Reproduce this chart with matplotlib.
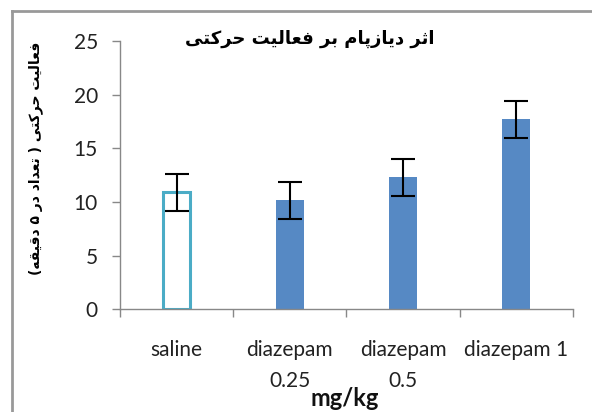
import matplotlib
matplotlib.use("Agg")
import matplotlib.pyplot as plt
from matplotlib.lines import Line2D

# ---------------- DATA ----------------
categories = ["saline", "diazepam\n0.25", "diazepam\n0.5", "diazepam 1"]
means = [10.9, 10.15, 12.3, 17.7]
errors = [1.75, 1.75, 1.75, 1.75]
title_text = "اثر دیازپام بر فعالیت حرکتی"
ylabel_text = "فعالیت حرکتی ( تعداد در ۵ دقیقه)"
xlabel_text = "mg/kg"

# ---------------- PERSIAN SHAPING ----------------
# matplotlib has no bidi / joining, so pick presentation forms by hand
# forms: isolated, final, initial, medial
FORMS = {
    "ا": ("\uFE8D", "\uFE8E", None, None),
    "د": ("\uFEA9", "\uFEAA", None, None),
    "ر": ("\uFEAD", "\uFEAE", None, None),
    "ز": ("\uFEAF", "\uFEB0", None, None),
    "ب": ("\uFE8F", "\uFE90", "\uFE91", "\uFE92"),
    "ت": ("\uFE95", "\uFE96", "\uFE97", "\uFE98"),
    "ث": ("\uFE99", "\uFE9A", "\uFE9B", "\uFE9C"),
    "ح": ("\uFEA1", "\uFEA2", "\uFEA3", "\uFEA4"),
    "ع": ("\uFEC9", "\uFECA", "\uFECB", "\uFECC"),
    "ف": ("\uFED1", "\uFED2", "\uFED3", "\uFED4"),
    "ق": ("\uFED5", "\uFED6", "\uFED7", "\uFED8"),
    "ل": ("\uFEDD", "\uFEDE", "\uFEDF", "\uFEE0"),
    "م": ("\uFEE1", "\uFEE2", "\uFEE3", "\uFEE4"),
    "ن": ("\uFEE5", "\uFEE6", "\uFEE7", "\uFEE8"),
    "ه": ("\uFEE9", "\uFEEA", "\uFEEB", "\uFEEC"),
    "پ": ("\uFB56", "\uFB57", "\uFB58", "\uFB59"),
    "ک": ("\uFB8E", "\uFB8F", "\uFB90", "\uFB91"),
    "ی": ("\uFBFC", "\uFBFD", "\uFBFE", "\uFBFF"),
}
MIRROR = {"(": ")", ")": "("}


def shape(text):
    out = []
    for i, ch in enumerate(text):
        if ch not in FORMS:
            out.append(MIRROR.get(ch, ch))
            continue
        prev = text[i - 1] if i > 0 else ""
        nxt = text[i + 1] if i + 1 < len(text) else ""
        join_prev = prev in FORMS and FORMS[prev][2] is not None
        join_next = FORMS[ch][2] is not None and nxt in FORMS
        iso, fin, ini, med = FORMS[ch]
        if join_prev and join_next:
            out.append(med)
        elif join_prev:
            out.append(fin)
        elif join_next:
            out.append(ini)
        else:
            out.append(iso)
    return "".join(reversed(out))


# ---------------- PLOT ----------------
plt.rcParams["font.family"] = ["Lato", "DejaVu Sans"]

fig = plt.figure(figsize=(5.92, 4.12), dpi=100)
ax = fig.add_axes([0.2027, 0.2493, 0.7652, 0.6512])

x = list(range(len(categories)))
colors = ["white", "#5689C4", "#5689C4", "#5689C4"]
edges = ["#4BACC6", "#5689C4", "#5689C4", "#5689C4"]
lws = [2.2, 0, 0, 0]
ax.bar(x, means, width=0.245, color=colors, edgecolor=edges, linewidth=lws, zorder=2)
ax.errorbar(x, means, yerr=errors, fmt="none", ecolor="black",
            elinewidth=1.5, capsize=8.5, capthick=1.5, zorder=3)

ax.set_xlim(-0.5, len(categories) - 0.5)
ax.set_ylim(0, 25)
ax.set_yticks([0, 5, 10, 15, 20, 25])
ax.set_xticks(x)
ax.set_xticklabels(categories, fontsize=15, color="#222222", linespacing=1.7)
ax.set_xticks([i - 0.5 for i in range(len(categories) + 1)], minor=True)
ax.tick_params(axis="x", which="major", length=0, pad=22)
ax.tick_params(axis="x", which="minor", length=6, color="#888888", width=1)
ax.tick_params(axis="y", length=6, color="#888888", width=1, labelsize=15,
               labelcolor="#222222", pad=10)

for side in ["top", "right"]:
    ax.spines[side].set_visible(False)
for side in ["left", "bottom"]:
    ax.spines[side].set_color("#888888")
    ax.spines[side].set_linewidth(1)

fig.text(310 / 592, 1 - 39 / 412, shape(title_text), ha="center", va="center",
         fontsize=13, fontweight="bold", family=["DejaVu Sans"])
fig.text(36 / 592, 1 - 158 / 412, shape(ylabel_text), ha="center", va="center",
         rotation=90, fontsize=10, fontweight="bold", family=["DejaVu Sans"])
fig.text(345 / 592, 1 - 398 / 412, xlabel_text, ha="center", va="center",
         fontsize=17, fontweight="bold", color="#111111")

# chart border (only top and left edges show in the crop)
fig.add_artist(Line2D([12 / 592, 12 / 592], [0, 1 - 11 / 412], color="#999999", lw=2))
fig.add_artist(Line2D([12 / 592, 1], [1 - 11 / 412, 1 - 11 / 412], color="#999999", lw=2))

fig.savefig("out.png", dpi=100)
plt.close(fig)
